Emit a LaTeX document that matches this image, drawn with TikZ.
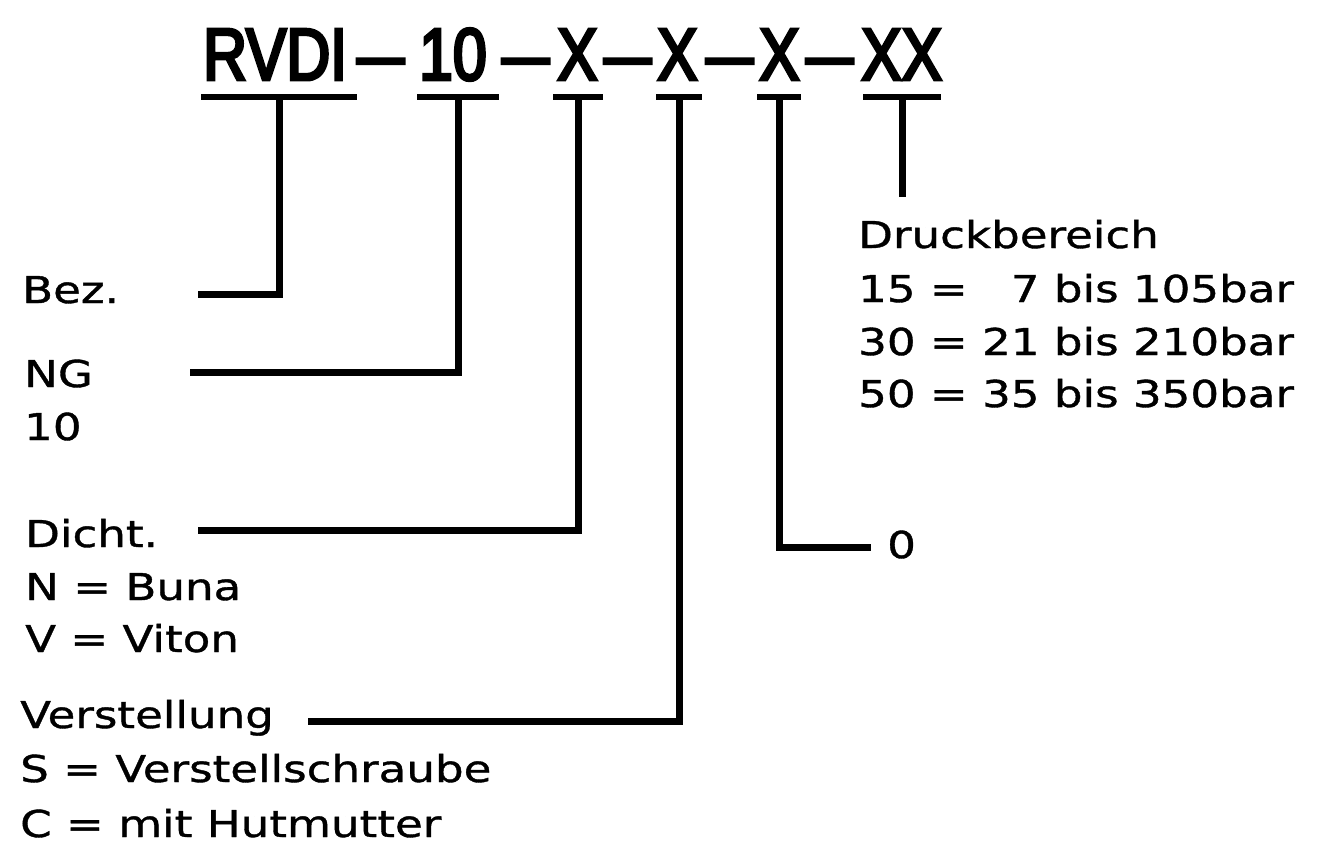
\documentclass[tikz,border=0pt]{standalone}
\usepackage{fontspec}
\newfontfamily\titlefont{Liberation Sans}[FakeStretch=0.82,FakeBold=4]
\newfontfamily\dashfont{Liberation Sans}[FakeStretch=1.14,FakeBold=4]
\newfontfamily\labfont{DejaVu Sans}[FakeStretch=1.22,FakeBold=1]
\begin{document}
\begin{tikzpicture}[x=1pt,y=-1pt,
  ttl/.style={font=\titlefont\fontsize{74}{80}\selectfont, inner sep=0pt, anchor=base west},
  tdash/.style={font=\dashfont\fontsize{74}{80}\selectfont, inner sep=0pt, anchor=base west},
  lab/.style={font=\labfont\fontsize{37}{40}\selectfont, inner sep=0pt, anchor=base west},
  ubar/.style={fill=black, draw=none, inner sep=0pt, minimum height=6pt},
  conn/.style={line width=7pt, line join=miter}]
\useasboundingbox[fill=white] (0,0) rectangle (1332,847);

% title
\node[ttl]   (rvdi) at (203,80) {RVDI};
\node[tdash] (d1)   at (357,80) {–};
\node[ttl]   (ng0)  at (419,80) {10};
\node[tdash] (d2)   at (502,80) {–};
\node[ttl]   (x1)   at (557,80) {X};
\node[tdash] (d3)   at (604,80) {–};
\node[ttl]   (x2)   at (657,80) {X};
\node[tdash] (d4)   at (706,80) {–};
\node[ttl]   (x3)   at (759,80) {X};
\node[tdash] (d5)   at (806,80) {–};
\node[ttl]   (xx)   at (861,80) {XX};

% underline bars
\node[ubar, minimum width=156pt] (b1) at (279,97) {};
\node[ubar, minimum width=82pt]  (b2) at (458,97) {};
\node[ubar, minimum width=50pt]  (b3) at (578,97) {};
\node[ubar, minimum width=46pt]  (b4) at (679,97) {};
\node[ubar, minimum width=44pt]  (b5) at (779,97) {};
\node[ubar, minimum width=78pt]  (b6) at (902,97) {};

% labels
\node[lab] (bez)   at (22,303) {Bez.};
\node[lab] (ng)    at (24,387) {NG};
\node[lab] (ng10)  at (24,440) {10};
\node[lab] (dicht) at (25,547) {Dicht.};
\node[lab] (buna)  at (25,600) {N = Buna};
\node[lab] (viton) at (25,652) {V = Viton};
\node[lab] (verst) at (20,728) {Verstellung};
\node[lab] (schr)  at (20,782) {S = Verstellschraube};
\node[lab] (hut)   at (20,837) {C = mit Hutmutter};
\node[lab] (druck) at (858,248) {Druckbereich};
\node[lab] (p15)   at (858,302) {15 = \phantom{2}7 bis 105bar};
\node[lab] (p30)   at (858,355) {30 = 21 bis 210bar};
\node[lab] (p50)   at (858,407) {50 = 35 bis 350bar};
\node[lab] (null)  at (887,558) {0};

% connector ends
\coordinate (bezEnd)   at (198,294);
\coordinate (ngEnd)    at (190,372);
\coordinate (dichtEnd) at (198,530);
\coordinate (verstEnd) at (308,721);
\coordinate (nullEnd)  at (871,547);
\coordinate (xxEnd)    at (902,197);

% connectors
\draw[conn] (b1.center) |- (bezEnd);
\draw[conn] (b2.center) |- (ngEnd);
\draw[conn] (b3.center) |- (dichtEnd);
\draw[conn] (b4.center) |- (verstEnd);
\draw[conn] (b5.center) |- (nullEnd);
\draw[conn] (b6.center) -- (xxEnd);
\end{tikzpicture}
\end{document}
